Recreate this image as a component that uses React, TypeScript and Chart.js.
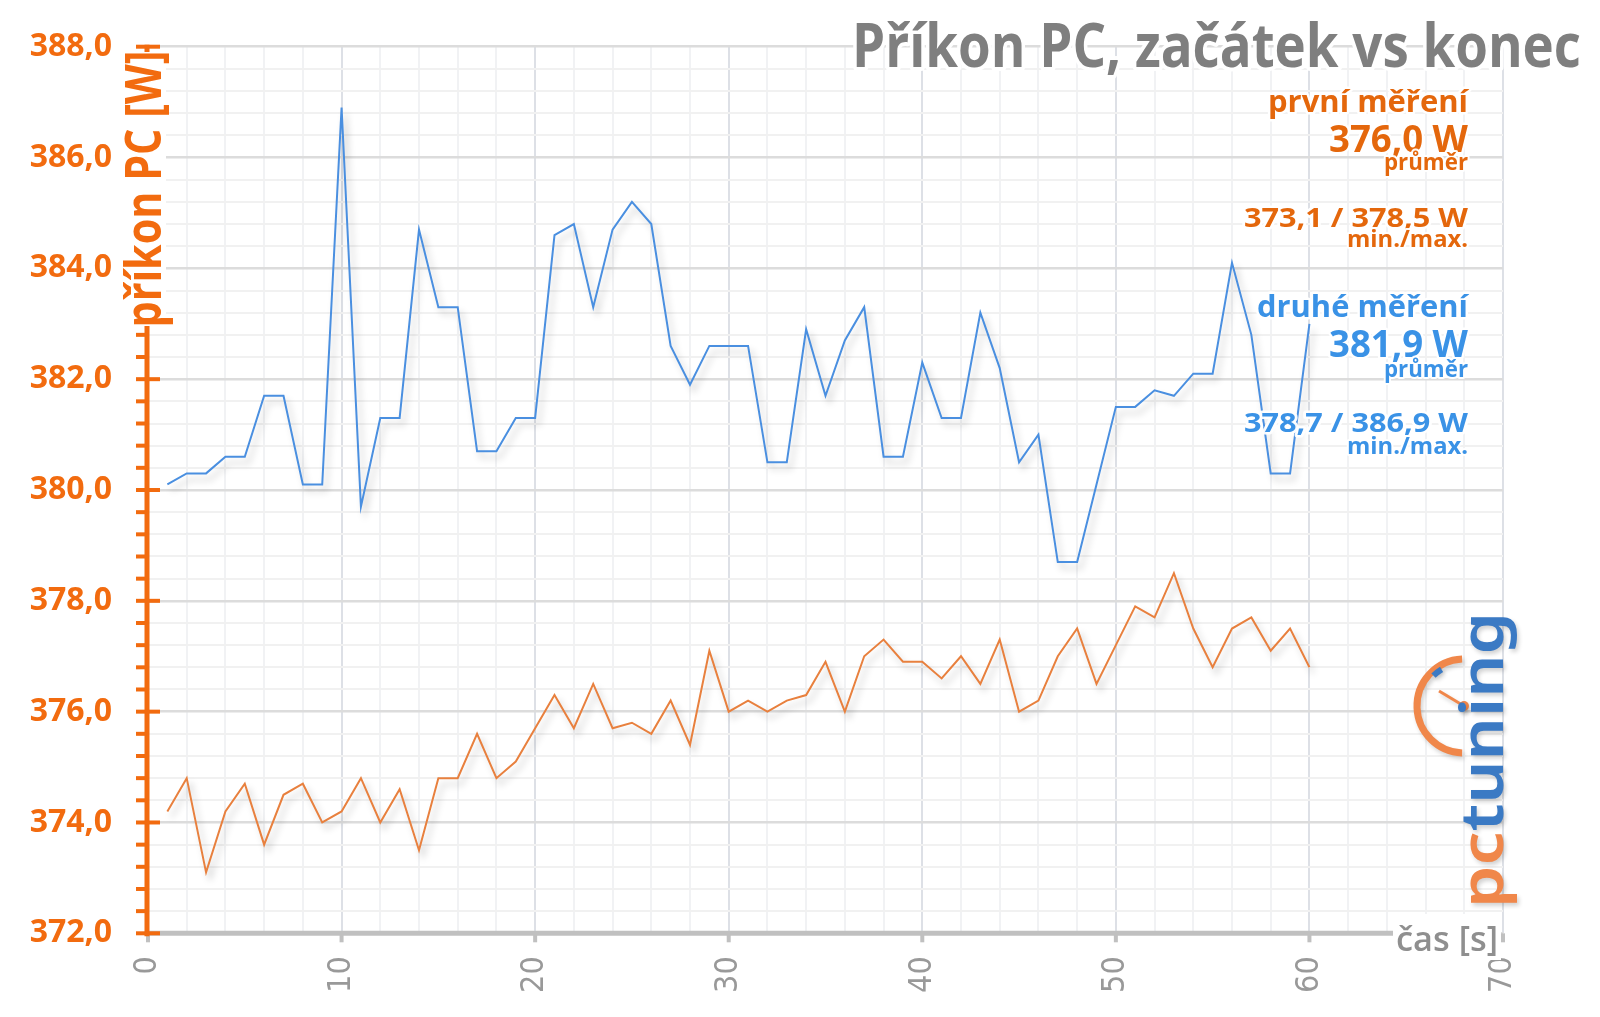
import React, { useEffect, useRef } from 'react';
import { Chart, registerables } from 'chart.js';

Chart.register(...registerables);

// ---- data ----
const seconds = [
  1, 2, 3, 4, 5, 6, 7, 8, 9, 10,
  11, 12, 13, 14, 15, 16, 17, 18, 19, 20,
  21, 22, 23, 24, 25, 26, 27, 28, 29, 30,
  31, 32, 33, 34, 35, 36, 37, 38, 39, 40,
  41, 42, 43, 44, 45, 46, 47, 48, 49, 50,
  51, 52, 53, 54, 55, 56, 57, 58, 59, 60,
];

const firstRun = [
  374.2, 374.8, 373.1, 374.2, 374.7, 373.6, 374.5, 374.7, 374.0, 374.2,
  374.8, 374.0, 374.6, 373.5, 374.8, 374.8, 375.6, 374.8, 375.1, 375.7,
  376.3, 375.7, 376.5, 375.7, 375.8, 375.6, 376.2, 375.4, 377.1, 376.0,
  376.2, 376.0, 376.2, 376.3, 376.9, 376.0, 377.0, 377.3, 376.9, 376.9,
  376.6, 377.0, 376.5, 377.3, 376.0, 376.2, 377.0, 377.5, 376.5, 377.2,
  377.9, 377.7, 378.5, 377.5, 376.8, 377.5, 377.7, 377.1, 377.5, 376.8,
];

const secondRun = [
  380.1, 380.3, 380.3, 380.6, 380.6, 381.7, 381.7, 380.1, 380.1, 386.9,
  379.7, 381.3, 381.3, 384.7, 383.3, 383.3, 380.7, 380.7, 381.3, 381.3,
  384.6, 384.8, 383.3, 384.7, 385.2, 384.8, 382.6, 381.9, 382.6, 382.6,
  382.6, 380.5, 380.5, 382.9, 381.7, 382.7, 383.3, 380.6, 380.6, 382.3,
  381.3, 381.3, 383.2, 382.2, 380.5, 381.0, 378.7, 378.7, 380.1, 381.5,
  381.5, 381.8, 381.7, 382.1, 382.1, 384.1, 382.8, 380.3, 380.3, 383.0,
];

const seriesNames = ['první měření', 'druhé měření'];
const avgLabels = ['376,0 W', '381,9 W'];
const minMaxLabels = ['373,1 / 378,5 W', '378,7 / 386,9 W'];
const avgCaption = 'průměr';
const minMaxCaption = 'min./max.';
const chartTitle = 'Příkon PC, začátek vs konec';
const yAxisTitle = 'příkon PC [W]';
const xAxisTitle = 'čas [s]';
const yMin = 372;
const yMax = 388;
const yMinorStep = 0.4;
const yMajorStep = 2;
const xMin = 0;
const xMax = 70;
const xMinorStep = 2;
const xMajorStep = 10;

// ---- styles ----
const AXIS_ORANGE = '#f26b0f';
const TEXT_ORANGE = '#e4670c';
const TEXT_BLUE = '#3a92e6';
const LINE_ORANGE = '#e8803e';
const LINE_BLUE = '#4a8fe0';
const FONT = '"Open Sans", "DejaVu Sans", sans-serif';
const NARROW = '"Liberation Sans Narrow", "DejaVu Sans Condensed", sans-serif';

const isMultiple = (v: number, step: number) => Math.abs(v / step - Math.round(v / step)) < 1e-6;

function drawFitted(ctx: any, text: string, x: number, y: number, font: string, color: string, width: number, align: string, halo = 0) {
  ctx.save();
  ctx.font = font;
  const w = ctx.measureText(text).width;
  const s = width / w;
  ctx.translate(x, y);
  ctx.scale(s, 1);
  ctx.textAlign = align;
  ctx.textBaseline = 'alphabetic';
  if (halo) {
    ctx.strokeStyle = 'rgba(255,255,255,0.95)';
    ctx.lineWidth = halo;
    ctx.lineJoin = 'round';
    ctx.strokeText(text, 0, 0);
  }
  ctx.fillStyle = color;
  ctx.fillText(text, 0, 0);
  ctx.restore();
}

const shadowPlugin = {
  id: 'lineShadow',
  beforeDatasetDraw(chart: any) {
    const ctx = chart.ctx;
    ctx.save();
    ctx.shadowColor = 'rgba(0,0,0,0.22)';
    ctx.shadowBlur = 7;
    ctx.shadowOffsetX = 4;
    ctx.shadowOffsetY = 6;
  },
  afterDatasetDraw(chart: any) {
    chart.ctx.restore();
  },
};

const overlayPlugin = {
  id: 'overlay',
  afterDraw(chart: any) {
    const ctx = chart.ctx;
    const xs = chart.scales.x;
    const ys = chart.scales.y;
    const ca = chart.chartArea;
    ctx.save();

    // x axis line + ticks
    ctx.strokeStyle = '#c0c0c0';
    ctx.lineWidth = 5;
    ctx.beginPath();
    ctx.moveTo(ca.left - 2, ca.bottom);
    ctx.lineTo(1393, ca.bottom);
    ctx.stroke();
    ctx.lineWidth = 4;
    for (let v = xMin; v <= xMax; v += xMajorStep) {
      const px = xs.getPixelForValue(v);
      ctx.beginPath();
      ctx.moveTo(px, ca.bottom);
      ctx.lineTo(px, ca.bottom + 9);
      ctx.stroke();
    }

    // y axis line + ticks
    const axX = ca.left - 1;
    ctx.strokeStyle = AXIS_ORANGE;
    ctx.lineWidth = 5;
    ctx.beginPath();
    ctx.moveTo(axX, ca.top - 2);
    ctx.lineTo(axX, ca.bottom + 3);
    ctx.stroke();
    ctx.lineWidth = 4;
    ys.ticks.forEach((t: any) => {
      const py = ys.getPixelForValue(t.value);
      const major = isMultiple(t.value, yMajorStep);
      ctx.beginPath();
      ctx.moveTo(axX - 11, py);
      ctx.lineTo(major ? axX + 13 : axX, py);
      ctx.stroke();
    });

    // y axis title with white backing
    ctx.save();
    ctx.translate(axX - 3, 189);
    ctx.rotate(-Math.PI / 2);
    ctx.font = `bold 50px ${FONT}`;
    const tw = ctx.measureText(yAxisTitle).width;
    const ts = 277 / tw;
    ctx.fillStyle = '#ffffff';
    ctx.fillRect(-137, -18, 274, 40);
    ctx.scale(ts, 1);
    ctx.textAlign = 'center';
    ctx.textBaseline = 'middle';
    ctx.fillStyle = AXIS_ORANGE;
    ctx.fillText(yAxisTitle, 0, 3);
    ctx.restore();

    // x axis title
    ctx.fillStyle = '#ffffff';
    ctx.fillRect(1393, 914, 108, 46);
    drawFitted(ctx, xAxisTitle, 1498, 951, `600 34px ${FONT}`, '#8f8f8f', 102, 'right');

    // chart title
    drawFitted(ctx, chartTitle, 1581, 67, `bold 60px ${FONT}`, '#7f7f7f', 729, 'right', 8);

    // legend blocks
    const right = 1468;
    const blocks = [
      { color: TEXT_ORANGE, dy: 0, i: 0 },
      { color: TEXT_BLUE, dy: 205, i: 1 },
    ];
    blocks.forEach((b) => {
      drawFitted(ctx, seriesNames[b.i], right, 111.7 + b.dy, `bold 31px ${FONT}`, b.color, b.i === 0 ? 200 : 211, 'right', 5);
      drawFitted(ctx, avgLabels[b.i], right, 151.7 + b.dy, `bold 38px ${FONT}`, b.color, 139, 'right', 5);
      drawFitted(ctx, avgCaption, right, 170 + b.dy + (b.i ? 2 : 0), `bold 23px ${FONT}`, b.color, 84, 'right', 4);
      drawFitted(ctx, minMaxLabels[b.i], right, 227 + b.dy, `bold 27px ${FONT}`, b.color, 224, 'right', 5);
      drawFitted(ctx, minMaxCaption, right, 246.7 + b.dy + (b.i ? 2 : 0), `bold 23px ${FONT}`, b.color, 121, 'right', 4);
    });

    // pctuning logo
    ctx.save();
    ctx.shadowColor = 'rgba(0,0,0,0.18)';
    ctx.shadowBlur = 4;
    ctx.shadowOffsetX = 2;
    ctx.shadowOffsetY = 3;
    const cx = 1464;
    const cy = 706;
    ctx.strokeStyle = '#f0874a';
    ctx.lineWidth = 7;
    ctx.beginPath();
    ctx.arc(cx, cy, 47, -Math.PI / 2 - 0.04, Math.PI / 2 + 0.04, true);
    ctx.stroke();
    ctx.strokeStyle = '#3b7ac4';
    ctx.lineWidth = 6;
    ctx.beginPath();
    ctx.arc(cx, cy, 43, -2.36, -2.12, false);
    ctx.stroke();
    ctx.strokeStyle = '#f0874a';
    ctx.lineWidth = 3;
    ctx.beginPath();
    ctx.moveTo(cx, cy);
    ctx.lineTo(cx - 25, cy - 15);
    ctx.stroke();
    ctx.fillStyle = '#f0874a';
    ctx.beginPath();
    ctx.arc(cx, cy, 5, 0, Math.PI * 2);
    ctx.fill();

    ctx.translate(1503, 908);
    ctx.rotate(-Math.PI / 2);
    ctx.font = `600 60px "Noto Sans", ${FONT}`;
    const full = ctx.measureText('pctuning').width;
    const pcw = ctx.measureText('pc').width;
    ctx.scale(296 / full, 1);
    ctx.textAlign = 'left';
    ctx.textBaseline = 'alphabetic';
    ctx.fillStyle = '#f0874a';
    ctx.fillText('pc', 0, 0);
    ctx.fillStyle = '#3b7ac4';
    ctx.fillText('tuning', pcw, 0);
    ctx.restore();

    ctx.restore();
  },
};

export default function App() {
  const ref = useRef<HTMLCanvasElement>(null);

  useEffect(() => {
    const canvas = ref.current;
    if (!canvas) return;
    const chart = new Chart(canvas, {
      type: 'line',
      data: {
        datasets: [
          {
            label: seriesNames[0],
            data: seconds.map((s, i) => ({ x: s, y: firstRun[i] })),
            borderColor: LINE_ORANGE,
            borderWidth: 2,
            pointRadius: 0,
            tension: 0,
            fill: false,
          },
          {
            label: seriesNames[1],
            data: seconds.map((s, i) => ({ x: s, y: secondRun[i] })),
            borderColor: LINE_BLUE,
            borderWidth: 2,
            pointRadius: 0,
            tension: 0,
            fill: false,
          },
        ],
      },
      options: {
        responsive: false,
        animation: false,
        devicePixelRatio: 1,
        layout: { padding: { top: 46.7, right: 97, left: 0, bottom: 0 } },
        plugins: {
          legend: { display: false },
          tooltip: { enabled: false },
          title: { display: false },
        },
        scales: {
          x: {
            type: 'linear',
            min: xMin,
            max: xMax,
            afterFit: (s: any) => {
              s.height = 83.7;
              s.paddingLeft = 0;
              s.paddingRight = 0;
            },
            border: { display: false },
            grid: {
              drawTicks: false,
              color: (c: any) => (isMultiple(c.tick.value, xMajorStep) ? '#dde0e6' : '#f1f2f4'),
              lineWidth: 2,
            },
            ticks: {
              stepSize: xMinorStep,
              autoSkip: false,
              minRotation: 90,
              maxRotation: 90,
              padding: 23,
              color: '#999999',
              font: { family: NARROW, size: 32, weight: 'normal' },
              callback: (v: any) => (isMultiple(Number(v), xMajorStep) ? String(v) : ''),
            },
          },
          y: {
            type: 'linear',
            min: yMin,
            max: yMax,
            afterFit: (s: any) => {
              s.width = 148;
              s.paddingTop = 0;
              s.paddingBottom = 0;
            },
            border: { display: false },
            grid: {
              drawTicks: false,
              color: (c: any) => (isMultiple(c.tick.value, yMajorStep) ? '#dcdcdc' : '#f1f1f1'),
              lineWidth: (c: any) => (isMultiple(c.tick.value, yMajorStep) ? 2.5 : 2),
            },
            ticks: {
              stepSize: yMinorStep,
              autoSkip: false,
              padding: 36,
              color: AXIS_ORANGE,
              font: { family: FONT, size: 32, weight: 'bold' },
              callback: (v: any) =>
                isMultiple(Number(v), yMajorStep) ? Number(v).toFixed(1).replace('.', ',') : '',
            },
          },
        },
      },
      plugins: [shadowPlugin, overlayPlugin],
    } as any);
    return () => chart.destroy();
  }, []);

  return (
    <div style={{ position: 'fixed', left: 0, top: 0, width: 1600, height: 1017, background: '#ffffff' }}>
      <canvas ref={ref} width={1600} height={1017} style={{ display: 'block', width: 1600, height: 1017 }} />
    </div>
  );
}
